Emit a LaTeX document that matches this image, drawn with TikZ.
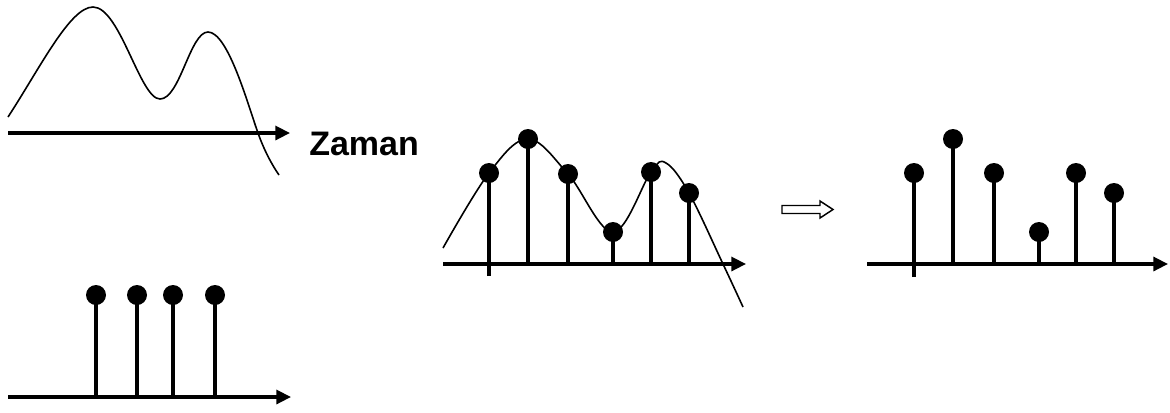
\documentclass[tikz,border=0pt]{standalone}
\usepackage{fontspec}
\setmainfont{Liberation Sans}
\usetikzlibrary{arrows.meta}
\begin{document}
\begin{tikzpicture}[x=0.75pt,y=-0.75pt,
  axis/.style={line width=2.4pt,-{Triangle[length=11pt,width=10.5pt]}},
  wave/.style={line width=1.2pt,line join=round},
  stem/.style={line width=2.5pt},
  ball/.style={circle,fill=black,inner sep=0pt,minimum size=15pt}]
\useasboundingbox (0,0) rectangle (1170,412);
% Panel 1: continuous signal
\draw[wave] (8,117) .. controls (40,68) and (70,7) .. (93,7)
  .. controls (120,7) and (140,99) .. (160,99)
  .. controls (180,99) and (190,32) .. (208,32)
  .. controls (228,32) and (248,105) .. (258,133)
  .. controls (264,150) and (272,165) .. (279,175);
\coordinate (a1s) at (8,133);
\coordinate (a1e) at (290,133);
\draw[axis] (a1s) -- (a1e);
\node[anchor=base west,inner sep=0pt,font=\bfseries\fontsize{25.5pt}{30pt}\selectfont] (zaman) at (309,155) {Zaman};
% Panel 2: impulse train
\coordinate (a2s) at (8,397);
\coordinate (a2e) at (291,397);
\draw[axis] (a2s) -- (a2e);
\foreach \i/\x in {1/96,2/137,3/173,4/215}{
  \coordinate (p\i) at (\x,397);
  \node[ball] (q\i) at (\x,295) {};
  \draw[stem] (p\i) -- (q\i.center);
}
% Panel 3: sampled signal
\draw[wave] plot[smooth,tension=0.6] coordinates {(443,248) (489,173) (528,139) (568,174) (613,232) (651,172) (666,163) (689,193) (723,264) (743,307)};
\coordinate (a3s) at (443,264);
\coordinate (a3e) at (746,264);
\draw[axis] (a3s) -- (a3e);
\coordinate (t3) at (489,276);
\foreach \i/\x/\y in {1/489/173,2/528/139,3/568/174,4/613/232,5/651/172,6/689/193}{
  \coordinate (r\i) at (\x,264);
  \node[ball] (s\i) at (\x,\y) {};
}
\draw[stem] (t3) -- (s1.center);
\foreach \i in {2,...,6}{\draw[stem] (r\i) -- (s\i.center);}
% Hollow arrow
\draw[line width=1.1pt,fill=white,line join=miter] (782,205.5) -- (820,205.5) -- (820,201) -- (833,209.5) -- (820,218) -- (820,213.5) -- (782,213.5) -- cycle;
% Panel 4: discrete signal
\coordinate (a4s) at (867,264);
\coordinate (a4e) at (1168,264);
\draw[axis] (a4s) -- (a4e);
\coordinate (t4) at (914,277);
\foreach \i/\x/\y in {1/914/173,2/953/139,3/994/173,4/1039/232,5/1076/173,6/1114/193}{
  \coordinate (u\i) at (\x,264);
  \node[ball] (v\i) at (\x,\y) {};
}
\draw[stem] (t4) -- (v1.center);
\foreach \i in {2,...,6}{\draw[stem] (u\i) -- (v\i.center);}
\end{tikzpicture}
\end{document}
